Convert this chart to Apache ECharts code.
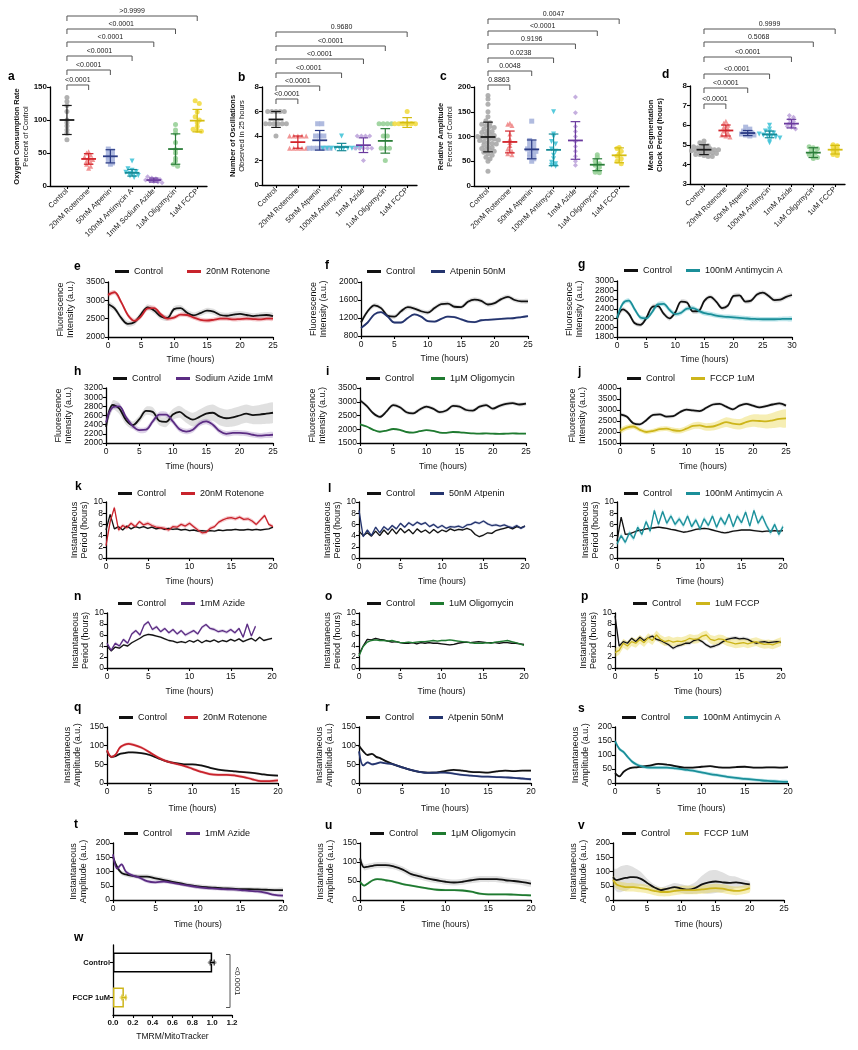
<!DOCTYPE html>
<html><head><meta charset="utf-8">
<script src="https://cdn.jsdelivr.net/npm/echarts@6/dist/echarts.min.js"></script>
<style>html,body{margin:0;padding:0;background:#fff}#c{width:858px;height:1050px}</style>
</head><body><div id="c"></div><script>
const FF = 'Liberation Sans, Arial, sans-serif';

// ---------- categories ----------
const catsA = ['Control','20nM Rotenone','50nM Atpenin','100nM Antimycin A','1mM Sodium Azide','1uM Oligomycin','1uM FCCP'];
const catsB = ['Control','20nM Rotenone','50nM Atpenin','100nM Antimycin','1mM Azide','1uM Oligomycin','1uM FCCP'];

// ---------- panel a : oxygen consumption ----------
const a_ctrl = [134,128,122,113,100,96,91,85,80,70];
const a_rot = [52,50,47,44,42,40,38,36,33,30,27];
const a_atp = [56,53,50,47,44,41,38,35,33];
const a_anti = [38,26,24,22,21,19,18,16,15,13];
const a_azide = [14,12,11,10,9,8,7,6,5];
const a_oligo = [93,85,80,66,55,50,42,38,33,30];
const a_fccp = [129,125,112,105,100,96,90,86,84,83];
const a_mean = [100,41,45,20,9,56,99];
const a_sd = [22,8,10,5,3,23,17];
const a_p = ['<0.0001','<0.0001','<0.0001','<0.0001','<0.0001','>0.9999'];

// ---------- panel b : number of oscillations ----------
const b_ctrl = [6,6,6,6,6,5,5,5,5,5,5,4];
const b_rot = [4,4,4,4,4,3,3,3,3,3];
const b_atp = [5,5,4,4,4,3,3,3,3,3,3];
const b_anti = [4,3,3,3,3,3,3,3,3,3,3];
const b_azide = [4,4,4,4,3,3,3,3,3,2];
const b_oligo = [5,5,5,5,4,4,3,3,3,2];
const b_fccp = [6,5,5,5,5,5,5,5];
const b_mean = [5.35,3.5,3.65,3.1,3.25,3.6,5.1];
const b_sd = [0.65,0.5,0.8,0.3,0.6,1.0,0.4];
const b_p = ['<0.0001','<0.0001','<0.0001','<0.0001','<0.0001','0.9680'];

// ---------- panel c : relative amplitude ----------
const c_ctrl = [183,176,165,150,140,132,128,125,122,120,118,115,112,110,108,106,104,102,100,99,98,96,95,93,92,90,88,86,85,83,80,78,76,74,72,70,68,65,62,58,55,50,30];
const c_rot = [127,125,122,105,95,88,82,75,70,65,63];
const c_atp = [131,92,88,82,78,75,72,70,65,62,58,55,50];
const c_anti = [150,105,100,90,85,75,70,62,55,48,45,42,40];
const c_azide = [180,148,120,110,100,90,80,70,60,50,42];
const c_oligo = [63,58,50,45,42,38,32,28,27];
const c_fccp = [78,76,70,65,60,55,50,45];
const c_mean = [99,89,74,73,92,43,62];
const c_sd = [30,22,19,32,38,12,15];
const c_p = ['0.8863','0.0048','0.0238','0.9196','<0.0001','0.0047'];

// ---------- panel d : clock period ----------
const d_ctrl = [5.2,5.1,5.0,4.95,4.9,4.9,4.85,4.85,4.8,4.8,4.75,4.75,4.7,4.7,4.65,4.65,4.6,4.6,4.55,4.5,4.5,4.45,4.4,4.4];
const d_rot = [6.2,6.1,6.0,5.9,5.8,5.7,5.6,5.5,5.45,5.4];
const d_atp = [5.9,5.8,5.7,5.65,5.6,5.55,5.5,5.45,5.5];
const d_anti = [6.0,5.8,5.7,5.65,5.6,5.55,5.5,5.45,5.45,5.4,5.35,5.2,5.1];
const d_azide = [6.5,6.4,6.3,6.2,6.1,6.0,5.95,5.9,5.8];
const d_oligo = [4.9,4.85,4.8,4.7,4.6,4.5,4.4,4.35,4.3];
const d_fccp = [5.0,4.95,4.9,4.8,4.7,4.6,4.5,4.45];
const d_mean = [4.75,5.73,5.6,5.53,6.08,4.6,4.75];
const d_sd = [0.25,0.28,0.13,0.17,0.22,0.25,0.22];
const d_p = ['<0.0001','<0.0001','<0.0001','<0.0001','0.5068','0.9999'];

// ---------- time axes ----------
const tH25 = [0,1,2,3,4,5,6,7,8,9,10,11,12,13,14,15,16,17,18,19,20,21,22,23,24,25];
const tH30 = [0,1,2,3,4,5,6,7,8,9,10,11,12,13,14,15,16,17,18,19,20,21,22,23,24,25,26,27,28,29,30];
const tP = [0,0.5,1,1.5,2,2.5,3,3.5,4,4.5,5,5.5,6,6.5,7,7.5,8,8.5,9,9.5,10,10.5,11,11.5,12,12.5,13,13.5,14,14.5,15,15.5,16,16.5,17,17.5,18,18.5,19,19.5,20];
const tA = [0,0.5,1,1.5,2,2.5,3,4,5,6,7,8,9,10,11,12,13,14,15,16,17,18,19,20];

// ---------- fluorescence (e-j) ----------
const e_ctrl = [2900,2780,2520,2360,2400,2620,2810,2720,2560,2520,2760,2790,2660,2590,2650,2720,2690,2600,2580,2610,2630,2600,2570,2590,2600,2570];
const e_rot = [3150,3220,2950,2600,2440,2560,2780,2790,2620,2500,2530,2610,2600,2530,2470,2450,2470,2500,2500,2480,2490,2500,2490,2480,2500,2500];
const f_ctrl = [1100,1350,1480,1420,1250,1230,1350,1440,1410,1350,1320,1420,1510,1520,1450,1440,1560,1610,1580,1500,1530,1620,1670,1600,1570,1570];
const f_atp = [980,1100,1280,1330,1230,1100,1100,1200,1280,1230,1130,1120,1180,1230,1220,1170,1120,1110,1150,1160,1170,1180,1190,1200,1220,1240];
const g_ctrl = [2200,2390,2300,2100,2060,2200,2440,2460,2300,2200,2330,2560,2540,2350,2360,2580,2660,2560,2420,2470,2680,2690,2560,2580,2710,2750,2680,2590,2600,2660,2700];
const g_anti = [2200,2520,2580,2400,2220,2200,2330,2500,2510,2380,2290,2320,2410,2420,2360,2310,2290,2260,2240,2230,2220,2210,2200,2190,2185,2180,2180,2180,2185,2190,2190];
const h_ctrl = [2350,2830,2750,2500,2390,2520,2700,2680,2480,2460,2620,2680,2580,2510,2570,2640,2660,2580,2540,2560,2600,2640,2610,2620,2640,2660];
const h_ctrl_sem = [80,100,120,100,80,80,90,100,100,110,120,130,140,150,160,170,180,190,190,200,200,200,200,210,220,220];
const h_azide = [2450,2780,2800,2560,2370,2280,2290,2470,2620,2620,2470,2300,2250,2290,2420,2470,2400,2260,2200,2220,2220,2210,2180,2160,2170,2180];
const i_ctrl = [3050,2850,2580,2450,2650,2880,2800,2620,2580,2720,2820,2750,2620,2680,2850,2820,2700,2680,2820,2880,2750,2850,2920,2950,2900,2930];
const i_oligo = [2180,2100,1980,1910,1950,2010,1980,1900,1880,1930,1970,1940,1880,1870,1900,1890,1870,1850,1840,1850,1840,1830,1840,1850,1840,1840];
const j_ctrl = [2800,2700,2400,2350,2550,2780,2800,2700,2720,2900,3020,2980,2950,3100,3250,3280,3150,3030,3200,3280,3200,3120,3180,3250,3300,3200];
const j_fccp = [2050,2200,2250,2100,2000,2050,2130,2150,2080,2050,2150,2280,2300,2230,2250,2350,2450,2380,2350,2450,2520,2500,2480,2530,2600,2620];
const j_fccp_sem = [120,120,110,100,100,100,110,110,120,120,130,150,160,170,180,200,220,230,240,260,280,300,320,350,380,400];

// ---------- instantaneous period (k-p) ----------
const k_ctrl = [5.0,7.8,5.2,5.6,5.0,5.7,5.2,5.6,5.4,5.6,5.3,5.5,5.2,5.4,5.1,5.3,5.1,5.2,5.0,5.1,4.9,5.0,4.8,4.9,4.8,4.9,4.8,5.0,4.9,5.0,5.0,5.1,5.0,5.0,5.1,5.0,5.1,5.0,5.1,5.2,5.5];
const k_rot = [2.2,6.5,9.0,5.0,5.8,5.4,6.2,5.6,6.5,5.9,6.2,5.8,5.5,5.4,5.3,5.0,5.6,5.5,6.0,5.7,6.2,5.6,5.0,4.5,4.6,5.3,5.6,6.4,6.8,7.1,7.2,7.0,7.3,6.9,7.0,6.6,6.0,6.8,7.6,6.0,5.6];
const l_ctrl = [4.8,4.0,4.5,3.9,4.8,4.0,5.0,4.2,5.2,4.3,5.3,4.5,5.1,4.3,5.2,4.6,5.0,4.4,5.1,4.5,5.0,4.7,5.2,4.9,5.1,5.0,5.3,5.0,4.2,3.8,4.1,4.5,4.4,4.9,5.1,5.3,5.5,5.2,5.6,5.4,5.7];
const l_atp = [8.5,3.8,5.0,4.0,5.5,4.5,5.6,5.0,5.8,5.2,6.2,5.5,6.3,5.8,6.4,6.0,6.3,5.6,6.0,5.4,5.8,5.3,5.6,5.5,5.7,5.4,5.9,6.0,6.4,6.2,6.6,6.1,5.8,5.9,5.7,5.9,5.6,5.4,5.8,5.3,5.7];
const m_ctrl = [3.0,7.3,4.2,4.3,4.6,4.9,5.0,5.2,5.3,5.4,5.5,5.4,5.3,5.1,5.0,4.8,4.6,4.7,4.9,5.1,5.2,5.3,5.2,5.0,4.8,4.6,4.5,4.6,4.8,4.9,5.0,5.0,5.0,4.9,4.8,4.7,4.8,4.8,4.9,4.8,4.9];
const m_anti = [2.5,4.0,2.8,4.5,3.5,5.5,4.2,6.5,4.8,8.5,6.0,8.3,6.2,7.5,6.0,7.0,5.8,7.5,5.6,6.8,5.2,7.0,5.8,7.5,5.5,7.2,6.0,7.8,5.6,7.5,6.3,8.2,5.7,8.5,6.2,7.5,5.8,4.5,6.0,4.2,5.6];
const n_ctrl = [4.0,3.1,3.8,3.6,4.2,4.0,4.6,5.0,5.4,5.9,6.1,6.0,5.8,5.6,5.3,5.0,4.9,4.6,4.8,4.6,5.0,4.7,5.1,4.6,5.0,4.8,5.1,4.7,5.0,4.8,5.2,4.9,5.3,4.8,5.1,5.4,4.9,5.6,5.0,5.2,5.4];
const n_azide = [4.5,3.2,4.5,4.0,5.2,4.5,6.2,6.8,6.0,7.8,8.4,7.0,7.5,6.6,7.2,6.4,7.0,6.2,6.8,6.0,6.4,6.8,6.2,7.4,7.9,7.2,7.0,6.6,6.8,6.5,7.0,6.4,7.2,5.6,8.0,5.8,7.6];
const o_ctrl = [2.5,4.0,5.2,5.1,5.4,5.2,5.1,4.9,4.7,4.8,4.6,4.5,4.5,4.6,4.4,4.6,4.5,4.6,4.5,4.5,4.4,4.3,4.2,4.3,4.5,4.6,4.7,4.6,4.7,4.8,4.7,4.6,4.6,4.6,4.5,4.6,4.6,4.5,4.5,4.4,4.3];
const o_oligo = [2.2,3.9,4.7,5.0,5.1,5.0,5.0,4.9,5.0,4.8,4.6,4.6,4.7,4.6,4.7,4.8,4.8,4.9,5.0,4.9,5.0,5.0,5.1,5.0,4.9,4.8,4.7,4.6,4.5,4.5,4.5,4.6,4.5,4.7,4.8,4.9,5.0,4.8,4.6,4.4,4.1];
const p_ctrl = [9.5,4.0,4.8,4.5,5.4,4.8,5.6,5.0,5.5,5.8,5.2,5.0,4.6,4.2,3.6,4.0,4.2,4.5,4.5,5.0,5.2,4.8,4.2,3.8,4.0,4.3,4.8,5.2,5.4,5.5,5.3,5.4,5.2,4.8,4.5,4.7,4.8,4.6,4.7,4.8,4.7];
const p_fccp = [2.8,3.2,4.5,4.0,4.8,4.5,5.2,4.6,5.5,5.0,6.0,5.2,4.8,5.0,4.7,4.9,4.8,5.0,5.4,5.2,5.3,5.8,6.0,5.2,5.0,5.3,5.2,4.8,4.6,4.4,4.5,4.6,4.4,4.6,4.8,4.5,4.3,4.4,4.2,4.5,4.8];

// ---------- instantaneous amplitude (q-v) ----------
const q_ctrl = [85,70,72,78,80,82,82,80,75,66,58,53,50,50,47,41,36,33,31,29,27,24,21,20];
const q_rot = [88,70,76,95,102,105,103,95,82,68,58,52,46,38,30,24,22,22,20,16,10,5,5,7];
const r_ctrl = [100,85,75,78,70,66,60,50,42,35,30,28,28,32,35,33,30,29,28,31,33,32,33,33];
const r_atp = [85,47,55,50,52,55,53,50,42,35,30,27,28,28,25,22,20,18,17,16,15,14,12,10];
const s_ctrl = [35,24,40,50,55,56,58,62,68,66,60,55,55,58,60,56,55,57,58,55,55,56,55,57];
const s_anti = [150,122,110,92,76,66,60,55,55,55,52,48,44,38,32,27,22,18,15,12,9,7,5,4];
const t_ctrl = [150,115,95,90,86,84,82,82,76,70,64,58,52,48,45,43,41,40,38,38,37,36,35,35];
const t_azide = [160,110,125,100,90,84,80,66,62,65,60,55,50,45,42,40,38,37,35,32,30,25,18,15];
const u_ctrl = [110,86,88,90,92,92,92,88,80,68,62,56,52,48,46,48,52,55,55,55,52,50,47,43];
const u_oligo = [48,38,45,52,55,54,52,48,42,38,34,30,27,26,26,25,22,17,15,15,15,14,13,12];
const v_ctrl = [80,70,72,76,78,80,80,75,60,45,35,40,45,40,36,42,55,62,65,62,60,62,58,55];
const v_ctrl_sem = [30,40,45,45,45,40,35,25,15,10,10,12,15,15,15,20,30,40,40,35,25,20,15,10];
const v_fccp = [70,55,50,47,45,45,45,42,38,32,28,28,32,35,35,35,37,40,42,40,35,32,35,42];

// ---------- panel w ----------
const w_cats = ['FCCP 1uM','Control'];
const w_vals = [0.11, 1.0];
const w_err = [0.02, 0.02];
const w_pts_fccp = [0.08,0.10,0.11,0.12,0.13];
const w_pts_ctrl = [0.97,0.99,1.0,1.01,1.03];
const w_p = '<0.0001';

// ---------- styles ----------
const COL = {ctrl:'#111111', rot:'#c8232c', atp:'#24346e', anti:'#1b8f99', azide:'#5b2c83', oligo:'#1f7a30', fccp:'#cdb51b'};
const BAND = {ctrl:'rgba(0,0,0,0.12)', rot:'rgba(215,40,50,0.25)', atp:'rgba(40,60,130,0.22)', anti:'rgba(30,170,185,0.3)', azide:'rgba(100,50,150,0.22)', oligo:'rgba(40,130,60,0.22)', fccp:'rgba(230,205,40,0.35)'};
const PT = ['#a8a8a8','#f08a8a','#a7b4dc','#45c4d8','#bfa6dc','#98d098','#f2dc45'];
const BARC = ['#1a1a1a','#d2232a','#2b3b85','#178a96','#6a3a9e','#2a7d38','#d4bd12'];
const SYM = ['circle','triangle','rect','triangle','diamond','circle','circle'];
const ROT = [0,0,0,180,0,0,0];

const option = {animation:false, backgroundColor:'#fff', textStyle:{fontFamily:FF},
  grid:[], xAxis:[], yAxis:[], series:[], legend:[], graphic:{elements:[]}};
let gcount = 0;
function addGrid(g, x, y){
  option.grid.push(Object.assign({containLabel:false}, g));
  x.gridIndex = gcount; y.gridIndex = gcount;
  option.xAxis.push(x); option.yAxis.push(y);
  return gcount++;
}
function axLine(){ return {show:true, onZero:false, lineStyle:{color:'#000', width:1.3}}; }
function axTick(extra){ return Object.assign({show:true, length:3, lineStyle:{color:'#000', width:1.1}}, extra||{}); }
const plain = v => String(v);

function scatterPanel(P){
  const gi = addGrid(P.grid, {
    type:'value', min:P.xmin, max:6.45, splitLine:{show:false},
    axisLine:axLine(), axisTick:axTick({customValues:[0,1,2,3,4,5,6]}),
    axisLabel:{customValues:[0,1,2,3,4,5,6], rotate:45, margin:4, fontSize:7.5, color:'#222', fontFamily:FF,
      formatter:(v)=>P.cats[Math.round(v)]}
  }, {
    type:'value', min:P.ymin, max:P.ymax, interval:P.yint, splitLine:{show:false},
    axisLine:axLine(), axisTick:axTick(),
    axisLabel:{fontSize:8, fontWeight:'bold', color:'#111', margin:3, fontFamily:FF, formatter:plain},
    name:'{t|'+P.yName[0]+'}\n{s|'+P.yName[1]+'}', nameLocation:'middle', nameGap:P.nameGap,
    nameTextStyle:{rich:{
      t:{fontSize:7.5, fontWeight:'bold', fontFamily:FF, color:'#111', lineHeight:9},
      s:{fontSize:7.5, fontWeight:P.boldSub?'bold':'normal', fontFamily:FF, color:'#111', lineHeight:9}}}
  });
  const pxPer = P.grid.height/(P.ymax-P.ymin);
  P.pts.forEach((vals,g)=>{
    const bins = {};
    vals.forEach(v=>{ const b = Math.round((v-P.ymin)*pxPer/4); bins[b]=(bins[b]||0)+1; });
    const seen = {};
    const data = vals.map(v=>{
      const b = Math.round((v-P.ymin)*pxPer/4);
      const k = seen[b]||0; seen[b] = k+1;
      return [g + (k-(bins[b]-1)/2)*0.19, v];
    });
    option.series.push({type:'scatter', xAxisIndex:gi, yAxisIndex:gi, data, symbol:SYM[g], symbolRotate:ROT[g],
      symbolSize:5, itemStyle:{color:PT[g], opacity:0.9}, z:2, silent:true});
  });
  option.series.push({type:'custom', xAxisIndex:gi, yAxisIndex:gi, z:3, silent:true, clip:false,
    data:P.mean.map((m,g)=>[g,m,P.sd[g]]),
    renderItem:(params,api)=>{
      const g=api.value(0), m=api.value(1), s=api.value(2);
      const c=api.coord([g,m]), t=api.coord([g,m+s]), b=api.coord([g,m-s]);
      const hw=api.size([0.34,0])[0], cw=api.size([0.22,0])[0];
      const col=BARC[g];
      return {type:'group', children:[
        {type:'line', shape:{x1:c[0]-hw,y1:c[1],x2:c[0]+hw,y2:c[1]}, style:{stroke:col,lineWidth:1.8}},
        {type:'line', shape:{x1:c[0],y1:t[1],x2:c[0],y2:b[1]}, style:{stroke:col,lineWidth:1.2}},
        {type:'line', shape:{x1:c[0]-cw,y1:t[1],x2:c[0]+cw,y2:t[1]}, style:{stroke:col,lineWidth:1.2}},
        {type:'line', shape:{x1:c[0]-cw,y1:b[1],x2:c[0]+cw,y2:b[1]}, style:{stroke:col,lineWidth:1.2}}
      ]};
    }});
  option.series.push({type:'custom', xAxisIndex:gi, yAxisIndex:gi, z:4, silent:true, clip:false,
    data:P.pvals.map((p,k)=>[k+1, P.ymin]),
    renderItem:(params,api)=>{
      const k=params.dataIndex, tx=api.value(0);
      const x0=api.coord([0,P.ymin])[0], x1=api.coord([tx,P.ymin])[0];
      const y=params.coordSys.y + P.brk[k];
      return {type:'group', children:[
        {type:'polyline', shape:{points:[[x0,y+5],[x0,y],[x1,y],[x1,y+5]]}, style:{stroke:'#555',lineWidth:1,fill:null}},
        {type:'text', x:(x0+x1)/2, y:y-1.5, style:{text:P.pvals[k], fill:'#222', font:'7px '+FF,
          textAlign:'center', textVerticalAlign:'bottom', align:'center', verticalAlign:'bottom'}}
      ]};
    }});
}

function linePanel(P){
  const gi = addGrid(P.grid, {
    type:'value', min:0, max:P.xmax, interval:5, splitLine:{show:false}, axisLine:axLine(), axisTick:axTick(),
    axisLabel:{fontSize:8.5, color:'#111', margin:4, fontFamily:FF, formatter:plain},
    name:'Time (hours)', nameLocation:'middle', nameGap:P.xGap, nameTextStyle:{fontSize:8.5, color:'#111', fontFamily:FF}
  }, {
    type:'value', min:P.ymin, max:P.ymax, interval:P.yint, splitLine:{show:false}, axisLine:axLine(), axisTick:axTick(),
    axisLabel:{fontSize:8.5, color:'#111', margin:3, fontFamily:FF, formatter:plain},
    name:P.yName, nameLocation:'middle', nameGap:P.yGap, nameTextStyle:{fontSize:9, lineHeight:10, color:'#111', fontFamily:FF}
  });
  P.series.forEach((s,j)=>{
    const t = P.t.slice(0, s.y.length);
    const semAt = i => Array.isArray(s.sem) ? s.sem[i] : s.sem;
    const band = t.map((x,i)=>[x, s.y[i]-semAt(i), s.y[i]+semAt(i)]);
    option.series.push({type:'custom', name:'band_'+gi+'_'+j, xAxisIndex:gi, yAxisIndex:gi, silent:true, z:1, clip:true,
      data:[[t[0], s.y[0]]],
      renderItem:(params,api)=>{
        const pts=[];
        band.forEach(r=>pts.push(api.coord([r[0],r[2]])));
        for(let i=band.length-1;i>=0;i--) pts.push(api.coord([band[i][0],band[i][1]]));
        return {type:'polygon', shape:{points:pts, smooth:P.smooth?0.25:0}, style:{fill:s.band}};
      }});
  });
  const names=[];
  P.series.forEach((s,j)=>{
    option.series.push({type:'line', name:s.name, xAxisIndex:gi, yAxisIndex:gi,
      data:P.t.slice(0,s.y.length).map((x,i)=>[x,s.y[i]]), showSymbol:false, symbol:'none',
      smooth:P.smooth?0.35:false, lineStyle:{color:s.color, width:P.lw}, itemStyle:{color:s.color}, z:3+j, silent:true});
    names.push(s.name);
  });
  option.legend.push({data:names, left:P.leg[0], top:P.leg[1]-6, itemGap:P.leg[2], padding:0, icon:'rect',
    itemWidth:14, itemHeight:3, selectedMode:false,
    textStyle:{fontSize:9, color:'#111', fontFamily:FF}});
}

// ---------- scatter panels ----------
scatterPanel({grid:{left:50,top:87,width:157,height:99}, xmin:-0.78, cats:catsA, ymin:0, ymax:150, yint:50,
  yName:['Oxygen Consumption Rate','Percent of Control'], nameGap:19,
  pts:[a_ctrl,a_rot,a_atp,a_anti,a_azide,a_oligo,a_fccp], mean:a_mean, sd:a_sd, pvals:a_p, brk:[-2,-17,-31,-45,-58,-71]});
scatterPanel({grid:{left:262,top:87,width:155,height:98}, xmin:-0.64, cats:catsB, ymin:0, ymax:8, yint:2,
  yName:['Number of Oscillations','Observed in 25 hours'], nameGap:16,
  pts:[b_ctrl,b_rot,b_atp,b_anti,b_azide,b_oligo,b_fccp], mean:b_mean, sd:b_sd, pvals:b_p, brk:[12,-1,-14,-28,-41,-55]});
scatterPanel({grid:{left:474,top:87,width:155,height:99}, xmin:-0.64, cats:catsB, ymin:0, ymax:200, yint:50,
  yName:['Relative Amplitude','Percent of Control'], nameGap:20,
  pts:[c_ctrl,c_rot,c_atp,c_anti,c_azide,c_oligo,c_fccp], mean:c_mean, sd:c_sd, pvals:c_p, brk:[-2,-16,-29,-43,-56,-68]});
scatterPanel({grid:{left:690,top:86,width:155,height:98}, xmin:-0.64, cats:catsB, ymin:3, ymax:8, yint:1,
  yName:['Mean Segmentation','Clock Period (hours)'], nameGap:26, boldSub:true,
  pts:[d_ctrl,d_rot,d_atp,d_anti,d_azide,d_oligo,d_fccp], mean:d_mean, sd:d_sd, pvals:d_p, brk:[18,2,-12,-29,-44,-57]});

// ---------- line panels ----------
const FL = 'Fluorescence\nIntensity (a.u.)', IP = 'Instantaneous\nPeriod (hours)', IA = 'Instantaneous\nAmplitude (a.u.)';
function S(name, y, c, sem){ return {name, y, color:COL[c], band:BAND[c], sem}; }

linePanel({grid:{left:108,top:282,width:165,height:55}, t:tH25, xmax:25, ymin:2000, ymax:3500, yint:500, yName:FL, yGap:32, xGap:18, smooth:true, lw:1.8, leg:[115,273,24],
  series:[S('Control',e_ctrl,'ctrl',80), S('20nM Rotenone',e_rot,'rot',60)]});
linePanel({grid:{left:361,top:282,width:167,height:54}, t:tH25, xmax:25, ymin:800, ymax:2000, yint:400, yName:FL, yGap:32, xGap:18, smooth:true, lw:1.8, leg:[367,273,16],
  series:[S('Control',f_ctrl,'ctrl',50), S('Atpenin 50nM',f_atp,'atp',25)]});
linePanel({grid:{left:617,top:281,width:175,height:56}, t:tH30, xmax:30, ymin:1800, ymax:3000, yint:200, yName:FL, yGap:32, xGap:18, smooth:true, lw:1.8, leg:[624,272,14],
  series:[S('Control',g_ctrl,'ctrl',50), S('100nM Antimycin A',g_anti,'anti',50)]});
linePanel({grid:{left:106,top:388,width:167,height:55}, t:tH25, xmax:25, ymin:2000, ymax:3200, yint:200, yName:FL, yGap:32, xGap:19, smooth:true, lw:1.8, leg:[113,380,15],
  series:[S('Control',h_ctrl,'ctrl',h_ctrl_sem), S('Sodium Azide 1mM',h_azide,'azide',60)]});
linePanel({grid:{left:360,top:388,width:166,height:55}, t:tH25, xmax:25, ymin:1500, ymax:3500, yint:500, yName:FL, yGap:32, xGap:19, smooth:true, lw:1.8, leg:[366,380,17],
  series:[S('Control',i_ctrl,'ctrl',70), S('1μM Oligomycin',i_oligo,'oligo',25)]});
linePanel({grid:{left:620,top:388,width:166,height:55}, t:tH25, xmax:25, ymin:1500, ymax:4000, yint:500, yName:FL, yGap:32, xGap:19, smooth:true, lw:1.8, leg:[627,380,16],
  series:[S('Control',j_ctrl,'ctrl',80), S('FCCP 1uM',j_fccp,'fccp',j_fccp_sem)]});

linePanel({grid:{left:106,top:502,width:167,height:56}, t:tP, xmax:20, ymin:0, ymax:10, yint:2, yName:IP, yGap:16, xGap:19, smooth:false, lw:1.3, leg:[118,495,15],
  series:[S('Control',k_ctrl,'ctrl',0.2), S('20nM Rotenone',k_rot,'rot',0.35)]});
linePanel({grid:{left:359,top:502,width:166,height:56}, t:tP, xmax:20, ymin:0, ymax:10, yint:2, yName:IP, yGap:16, xGap:19, smooth:false, lw:1.3, leg:[367,495,15],
  series:[S('Control',l_ctrl,'ctrl',0.2), S('50nM Atpenin',l_atp,'atp',0.25)]});
linePanel({grid:{left:617,top:502,width:166,height:56}, t:tP, xmax:20, ymin:0, ymax:10, yint:2, yName:IP, yGap:16, xGap:19, smooth:false, lw:1.3, leg:[624,495,14],
  series:[S('Control',m_ctrl,'ctrl',0.2), S('100nM Antimycin A',m_anti,'anti',0.45)]});
linePanel({grid:{left:107,top:613,width:165,height:55}, t:tP, xmax:20, ymin:0, ymax:10, yint:2, yName:IP, yGap:16, xGap:19, smooth:false, lw:1.3, leg:[118,605,15],
  series:[S('Control',n_ctrl,'ctrl',0.2), S('1mM Azide',n_azide,'azide',0.3)]});
linePanel({grid:{left:359,top:613,width:165,height:55}, t:tP, xmax:20, ymin:0, ymax:10, yint:2, yName:IP, yGap:16, xGap:19, smooth:false, lw:1.3, leg:[367,605,15],
  series:[S('Control',o_ctrl,'ctrl',0.15), S('1uM Oligomycin',o_oligo,'oligo',0.15)]});
linePanel({grid:{left:615,top:613,width:166,height:55}, t:tP, xmax:20, ymin:0, ymax:10, yint:2, yName:IP, yGap:16, xGap:19, smooth:false, lw:1.3, leg:[633,605,15],
  series:[S('Control',p_ctrl,'ctrl',0.35), S('1uM FCCP',p_fccp,'fccp',0.8)]});

linePanel({grid:{left:107,top:727,width:171,height:56}, t:tA, xmax:20, ymin:0, ymax:150, yint:50, yName:IA, yGap:24, xGap:21, smooth:true, lw:1.8, leg:[119,719,17],
  series:[S('Control',q_ctrl,'ctrl',3), S('20nM Rotenone',q_rot,'rot',4)]});
linePanel({grid:{left:359,top:727,width:172,height:56}, t:tA, xmax:20, ymin:0, ymax:150, yint:50, yName:IA, yGap:24, xGap:21, smooth:true, lw:1.8, leg:[366,719,15],
  series:[S('Control',r_ctrl,'ctrl',3), S('Atpenin 50nM',r_atp,'atp',3)]});
linePanel({grid:{left:615,top:727,width:173,height:56}, t:tA, xmax:20, ymin:0, ymax:200, yint:50, yName:IA, yGap:24, xGap:21, smooth:true, lw:1.8, leg:[622,719,14],
  series:[S('Control',s_ctrl,'ctrl',4), S('100nM Antimycin A',s_anti,'anti',6)]});
linePanel({grid:{left:113,top:843,width:170,height:57}, t:tA, xmax:20, ymin:0, ymax:200, yint:50, yName:IA, yGap:24, xGap:20, smooth:true, lw:1.8, leg:[124,835,14],
  series:[S('Control',t_ctrl,'ctrl',8), S('1mM Azide',t_azide,'azide',6)]});
linePanel({grid:{left:360,top:843,width:171,height:57}, t:tA, xmax:20, ymin:0, ymax:150, yint:50, yName:IA, yGap:24, xGap:20, smooth:true, lw:1.8, leg:[370,835,14],
  series:[S('Control',u_ctrl,'ctrl',8), S('1μM Oligomycin',u_oligo,'oligo',3)]});
linePanel({grid:{left:613,top:843,width:171,height:57}, t:tA, xmax:25, ymin:0, ymax:200, yint:50, yName:IA, yGap:24, xGap:20, smooth:true, lw:1.8, leg:[622,835,15],
  series:[S('Control',v_ctrl,'ctrl',v_ctrl_sem), S('FCCP 1uM',v_fccp,'fccp',15)]});

// ---------- panel w ----------
const wi = addGrid({left:113, top:945, width:119, height:70}, {
  type:'value', min:0, max:1.2, interval:0.2, splitLine:{show:false}, axisLine:axLine(), axisTick:axTick(),
  axisLabel:{fontSize:8, fontWeight:'bold', color:'#111', margin:4, fontFamily:FF, formatter:v=>v.toFixed(1)},
  name:'TMRM/MitoTracker', nameLocation:'middle', nameGap:17, nameTextStyle:{fontSize:8.5, color:'#111', fontFamily:FF}
}, {
  type:'category', data:w_cats, axisLine:axLine(), axisTick:axTick({alignWithLabel:true}),
  axisLabel:{fontSize:7.5, fontWeight:'bold', color:'#111', margin:3, fontFamily:FF}
});
option.series.push({type:'bar', xAxisIndex:wi, yAxisIndex:wi, barWidth:20, silent:true, z:2,
  data:w_vals.map((v,i)=>({value:v, itemStyle:{color:'#fff', borderColor:i===0?COL.fccp:'#000', borderWidth:1.5}}))});
option.series.push({type:'scatter', xAxisIndex:wi, yAxisIndex:wi, symbolSize:3, silent:true, z:3,
  data:w_pts_ctrl.map(v=>[v,1]), itemStyle:{color:'#888'}});
option.series.push({type:'scatter', xAxisIndex:wi, yAxisIndex:wi, symbolSize:3, silent:true, z:3,
  data:w_pts_fccp.map(v=>[v,0]), itemStyle:{color:'#efe06a'}});
option.series.push({type:'custom', xAxisIndex:wi, yAxisIndex:wi, silent:true, z:4, clip:false,
  data:w_vals.map((v,i)=>[v,i,w_err[i]]),
  renderItem:(params,api)=>{
    const v=api.value(0), i=api.value(1), e=api.value(2);
    const a=api.coord([v-e,i]), b=api.coord([v+e,i]);
    const col=i===0?COL.fccp:'#000';
    return {type:'group', children:[
      {type:'line', shape:{x1:a[0],y1:a[1],x2:b[0],y2:b[1]}, style:{stroke:col,lineWidth:1}},
      {type:'line', shape:{x1:a[0],y1:a[1]-3,x2:a[0],y2:a[1]+3}, style:{stroke:col,lineWidth:1}},
      {type:'line', shape:{x1:b[0],y1:b[1]-3,x2:b[0],y2:b[1]+3}, style:{stroke:col,lineWidth:1}}
    ]};
  }});
option.series.push({type:'custom', xAxisIndex:wi, yAxisIndex:wi, silent:true, z:4, clip:false,
  data:[[1.18, 0]],
  renderItem:(params,api)=>{
    const xb=api.coord([api.value(0),1])[0];
    const yt=api.coord([0,1])[1]-8, yb=api.coord([0,0])[1]+10;
    return {type:'group', children:[
      {type:'polyline', shape:{points:[[xb-4,yt],[xb,yt],[xb,yb],[xb-4,yb]]}, style:{stroke:'#555',lineWidth:1,fill:null}},
      {type:'text', x:xb+7, y:(yt+yb)/2, rotation:-Math.PI/2, style:{text:w_p, fill:'#222', font:'8px '+FF,
        textAlign:'center', textVerticalAlign:'middle', align:'center', verticalAlign:'middle'}}
    ]};
  }});

// ---------- panel letters ----------
const letters = [['a',8,77],['b',238,78],['c',440,77],['d',662,75],['e',74,267],['f',325,266],['g',578,265],
  ['h',74,372],['i',326,372],['j',578,372],['k',75,487],['l',328,489],['m',581,489],['n',74,597],['o',325,597],['p',581,597],
  ['q',74,708],['r',325,708],['s',578,709],['t',74,825],['u',325,826],['v',578,826],['w',74,938]];
letters.forEach(L=>option.graphic.elements.push({type:'text', x:L[1], y:L[2], silent:true,
  style:{text:L[0], fill:'#000', font:'bold 12px '+FF, textVerticalAlign:'middle', verticalAlign:'middle'}}));

const chart = echarts.init(document.getElementById('c'), null, {renderer:'canvas'});
chart.setOption(option);
</script></body></html>
